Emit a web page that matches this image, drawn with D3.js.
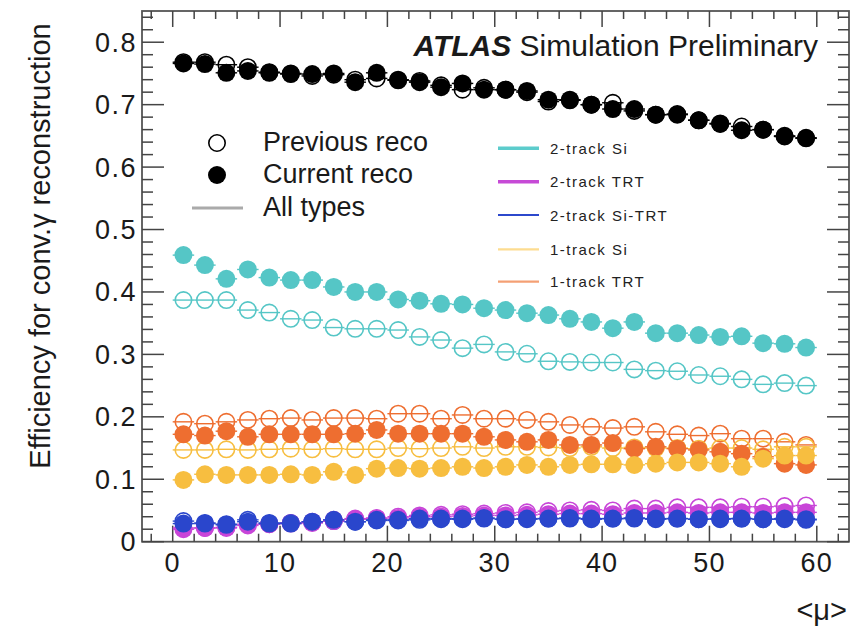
<!DOCTYPE html>
<html>
<head>
<meta charset="utf-8">
<script src="https://cdn.jsdelivr.net/npm/d3@7"></script>
<style>
  html, body { margin: 0; padding: 0; background: #fff; }
  svg { display: block; font-family: "Liberation Sans", Arial, Helvetica, sans-serif; }
</style>
</head>
<body>
<svg id="chart" width="856" height="630"></svg>
<script>
// ---------------- data ----------------
const mu = [1,3,5,7,9,11,13,15,17,19,21,23,25,27,29,31,33,35,37,39,41,43,45,47,49,51,53,55,57,59];

const allPrev = [0.768,0.768,0.764,0.760,0.752,0.750,0.746,0.748,0.740,0.742,0.740,0.738,0.731,0.724,0.727,
                 0.724,0.720,0.705,0.707,0.700,0.703,0.690,0.684,0.684,0.675,0.670,0.665,0.660,0.650,0.646];
const allCur  = [0.766,0.765,0.751,0.754,0.751,0.749,0.749,0.750,0.736,0.751,0.739,0.736,0.728,0.734,0.724,
                 0.724,0.722,0.708,0.708,0.700,0.693,0.693,0.684,0.685,0.675,0.669,0.659,0.660,0.649,0.647];

const si2Prev = [0.387,0.387,0.387,0.371,0.367,0.357,0.355,0.343,0.341,0.341,0.339,0.328,0.323,0.310,0.316,
                 0.304,0.301,0.289,0.288,0.287,0.287,0.276,0.274,0.273,0.267,0.265,0.260,0.252,0.254,0.250];
const si2Cur  = [0.459,0.443,0.421,0.436,0.423,0.419,0.419,0.408,0.400,0.400,0.388,0.386,0.381,0.380,0.374,
                 0.371,0.366,0.363,0.357,0.352,0.342,0.352,0.334,0.334,0.331,0.328,0.329,0.318,0.317,0.311];

const trt2Prev = [0.022,0.022,0.023,0.028,0.028,0.030,0.032,0.035,0.037,0.038,0.040,0.042,0.043,0.044,0.045,
                  0.046,0.047,0.049,0.050,0.051,0.050,0.053,0.053,0.055,0.055,0.055,0.056,0.056,0.057,0.058];
const trt2Cur  = [0.020,0.022,0.022,0.026,0.028,0.029,0.030,0.033,0.036,0.037,0.038,0.040,0.040,0.041,0.042,
                  0.042,0.043,0.044,0.045,0.045,0.044,0.046,0.046,0.047,0.046,0.047,0.047,0.046,0.047,0.047];

const siTrt2Prev = [0.033,0.030,0.028,0.035,0.030,0.030,0.031,0.033,0.032,0.034,0.034,0.035,0.036,0.036,0.037,
                    0.036,0.036,0.037,0.037,0.036,0.037,0.037,0.036,0.037,0.036,0.036,0.037,0.036,0.036,0.035];
const siTrt2Cur  = [0.029,0.029,0.027,0.032,0.029,0.029,0.032,0.035,0.032,0.035,0.035,0.037,0.037,0.037,0.038,
                    0.036,0.037,0.037,0.038,0.037,0.037,0.038,0.037,0.037,0.036,0.037,0.037,0.036,0.037,0.036];

const si1Prev = [0.147,0.147,0.148,0.147,0.148,0.149,0.148,0.149,0.148,0.148,0.150,0.149,0.150,0.152,0.150,
                 0.152,0.152,0.151,0.150,0.152,0.150,0.151,0.150,0.150,0.149,0.150,0.150,0.148,0.152,0.152];
const si1Cur  = [0.099,0.108,0.107,0.107,0.107,0.108,0.107,0.112,0.107,0.117,0.118,0.117,0.118,0.120,0.118,
                 0.120,0.123,0.120,0.123,0.124,0.124,0.123,0.125,0.127,0.127,0.125,0.120,0.133,0.138,0.138];

const trt1Prev = [0.192,0.189,0.192,0.195,0.197,0.198,0.195,0.198,0.198,0.197,0.205,0.205,0.197,0.203,0.197,
                  0.197,0.195,0.192,0.187,0.184,0.182,0.184,0.176,0.172,0.170,0.173,0.165,0.165,0.160,0.155];
const trt1Cur  = [0.172,0.170,0.177,0.168,0.172,0.172,0.172,0.172,0.173,0.179,0.173,0.173,0.173,0.173,0.168,
                  0.163,0.160,0.163,0.155,0.155,0.158,0.149,0.152,0.149,0.147,0.144,0.141,0.136,0.125,0.123];

const typeNames  = ["2-track Si", "2-track TRT", "2-track Si-TRT", "1-track Si", "1-track TRT"];
const typeColors = ["#55c6c6", "#c845d8", "#2a46cc", "#f7be40", "#ee6e30"];
const typeLegendColors = ["#5ccccc", "#c64ad6", "#2c48cc", "#fddc90", "#f4a074"];
const legendLabels = ["Previous reco", "Current reco", "All types"];
const xTicks = [0,10,20,30,40,50,60];
const yTicks = [0,0.1,0.2,0.3,0.4,0.5,0.6,0.7,0.8];

// ---------------- layout ----------------
const svg = d3.select("#chart");
const L = 142, R = 849, T = 11, B = 541.7;
const x = d3.scaleLinear().domain([-2.86, 63.0]).range([L, R]);
const y = d3.scaleLinear().domain([0, 0.85]).range([B, T]);
const axisColor = "#444";
const textColor = "#1a1a1a";

// frame
svg.append("rect").attr("x", L).attr("y", T).attr("width", R - L).attr("height", B - T)
  .attr("fill", "none").attr("stroke", "#555").attr("stroke-width", 1.8);

// ticks (inward, mirrored on opposite sides)
const xMinor = d3.range(-2, 63, 2);
const gTicks = svg.append("g").attr("stroke", axisColor).attr("stroke-width", 1.5);
xMinor.forEach(v => {
  const major = v % 10 === 0;
  const len = major ? 16 : 8;
  gTicks.append("line").attr("x1", x(v)).attr("x2", x(v)).attr("y1", B).attr("y2", B - len);
  gTicks.append("line").attr("x1", x(v)).attr("x2", x(v)).attr("y1", T).attr("y2", T + len);
});
const yMinor = d3.range(0, 0.851, 0.02);
yMinor.forEach((v, i) => {
  const major = i % 5 === 0;
  const len = major ? 22 : 11;
  gTicks.append("line").attr("y1", y(v)).attr("y2", y(v)).attr("x1", L).attr("x2", L + len);
  gTicks.append("line").attr("y1", y(v)).attr("y2", y(v)).attr("x1", R).attr("x2", R - len);
});

// tick labels
svg.append("g").selectAll("text").data(xTicks).join("text")
  .attr("x", d => x(d)).attr("y", 572).attr("text-anchor", "middle")
  .attr("font-size", 27).attr("letter-spacing", 1.2).attr("fill", textColor).text(d => d);
svg.append("g").selectAll("text").data(yTicks).join("text")
  .attr("x", 137).attr("y", d => y(d) + 9.5).attr("text-anchor", "end")
  .attr("font-size", 27).attr("letter-spacing", 1.5).attr("fill", textColor)
  .text(d => d === 0 ? "0" : d.toFixed(1));

// axis titles
svg.append("text").attr("transform", "translate(50,246) rotate(-90)")
  .attr("text-anchor", "middle").attr("font-size", 29).attr("fill", textColor)
  .text("Efficiency for conv.\u03B3 reconstruction");
svg.append("text").attr("x", 847).attr("y", 620).attr("text-anchor", "end")
  .attr("font-size", 29).attr("fill", textColor).text("<\u03BC>");

// ATLAS label
const atl = svg.append("text").attr("x", 818).attr("y", 56).attr("text-anchor", "end")
  .attr("font-size", 30).attr("fill", textColor);
atl.append("tspan").attr("font-weight", "bold").attr("font-style", "italic").text("ATLAS");
atl.append("tspan").text(" Simulation Preliminary");

// ---------------- series ----------------
const series = [
  { prev: si2Prev,    cur: si2Cur,    color: typeColors[0] },
  { prev: trt2Prev,   cur: trt2Cur,   color: typeColors[1] },
  { prev: siTrt2Prev, cur: siTrt2Cur, color: typeColors[2] },
  { prev: trt1Prev,   cur: trt1Cur,   color: typeColors[4] },
  { prev: si1Prev,    cur: si1Cur,    color: typeColors[3] },
  { prev: allPrev,    cur: allCur,    color: "#000000" }
];

const plot = svg.append("g");
function errBars(vals, color) {
  plot.append("g").attr("stroke", color).attr("stroke-width", 1.4)
    .selectAll("line").data(vals).join("line")
    .attr("x1", (d, i) => x(mu[i] - 1)).attr("x2", (d, i) => x(mu[i] + 1))
    .attr("y1", d => y(d)).attr("y2", d => y(d));
}
// previous reco: open circles
series.forEach(s => {
  errBars(s.prev, s.color);
  plot.append("g").selectAll("circle").data(s.prev).join("circle")
    .attr("cx", (d, i) => x(mu[i])).attr("cy", d => y(d)).attr("r", 8.2)
    .attr("fill", "none").attr("stroke", s.color).attr("stroke-width", 1.6);
});
// current reco: filled circles
series.forEach(s => {
  errBars(s.cur, s.color);
  plot.append("g").selectAll("circle").data(s.cur).join("circle")
    .attr("cx", (d, i) => x(mu[i])).attr("cy", d => y(d)).attr("r", 9)
    .attr("fill", s.color);
});

// ---------------- legends ----------------
const lg = svg.append("g");
lg.append("circle").attr("cx", 217).attr("cy", 143).attr("r", 8.2)
  .attr("fill", "none").attr("stroke", "#000").attr("stroke-width", 1.6);
lg.append("circle").attr("cx", 217).attr("cy", 175).attr("r", 9).attr("fill", "#000");
lg.append("line").attr("x1", 192).attr("x2", 243).attr("y1", 208).attr("y2", 208)
  .attr("stroke", "#aaaaaa").attr("stroke-width", 3);
lg.selectAll("text.l1").data(legendLabels).join("text")
  .attr("x", 263).attr("y", (d, i) => [151, 183, 216][i])
  .attr("font-size", 27).attr("fill", textColor).text(d => d);

const lg2 = svg.append("g");
const rowY = [148.3, 181.7, 215, 249.3, 281.7];
const lw = [3.5, 3.5, 2.2, 2.2, 2.2];
typeNames.forEach((n, i) => {
  lg2.append("line").attr("x1", 498).attr("x2", 539).attr("y1", rowY[i]).attr("y2", rowY[i])
    .attr("stroke", typeLegendColors[i]).attr("stroke-width", lw[i]);
  lg2.append("text").attr("x", 550).attr("y", rowY[i] + 5.5)
    .attr("font-size", 15).attr("letter-spacing", 1.5).attr("fill", "#222").text(n);
});
</script>
</body>
</html>
